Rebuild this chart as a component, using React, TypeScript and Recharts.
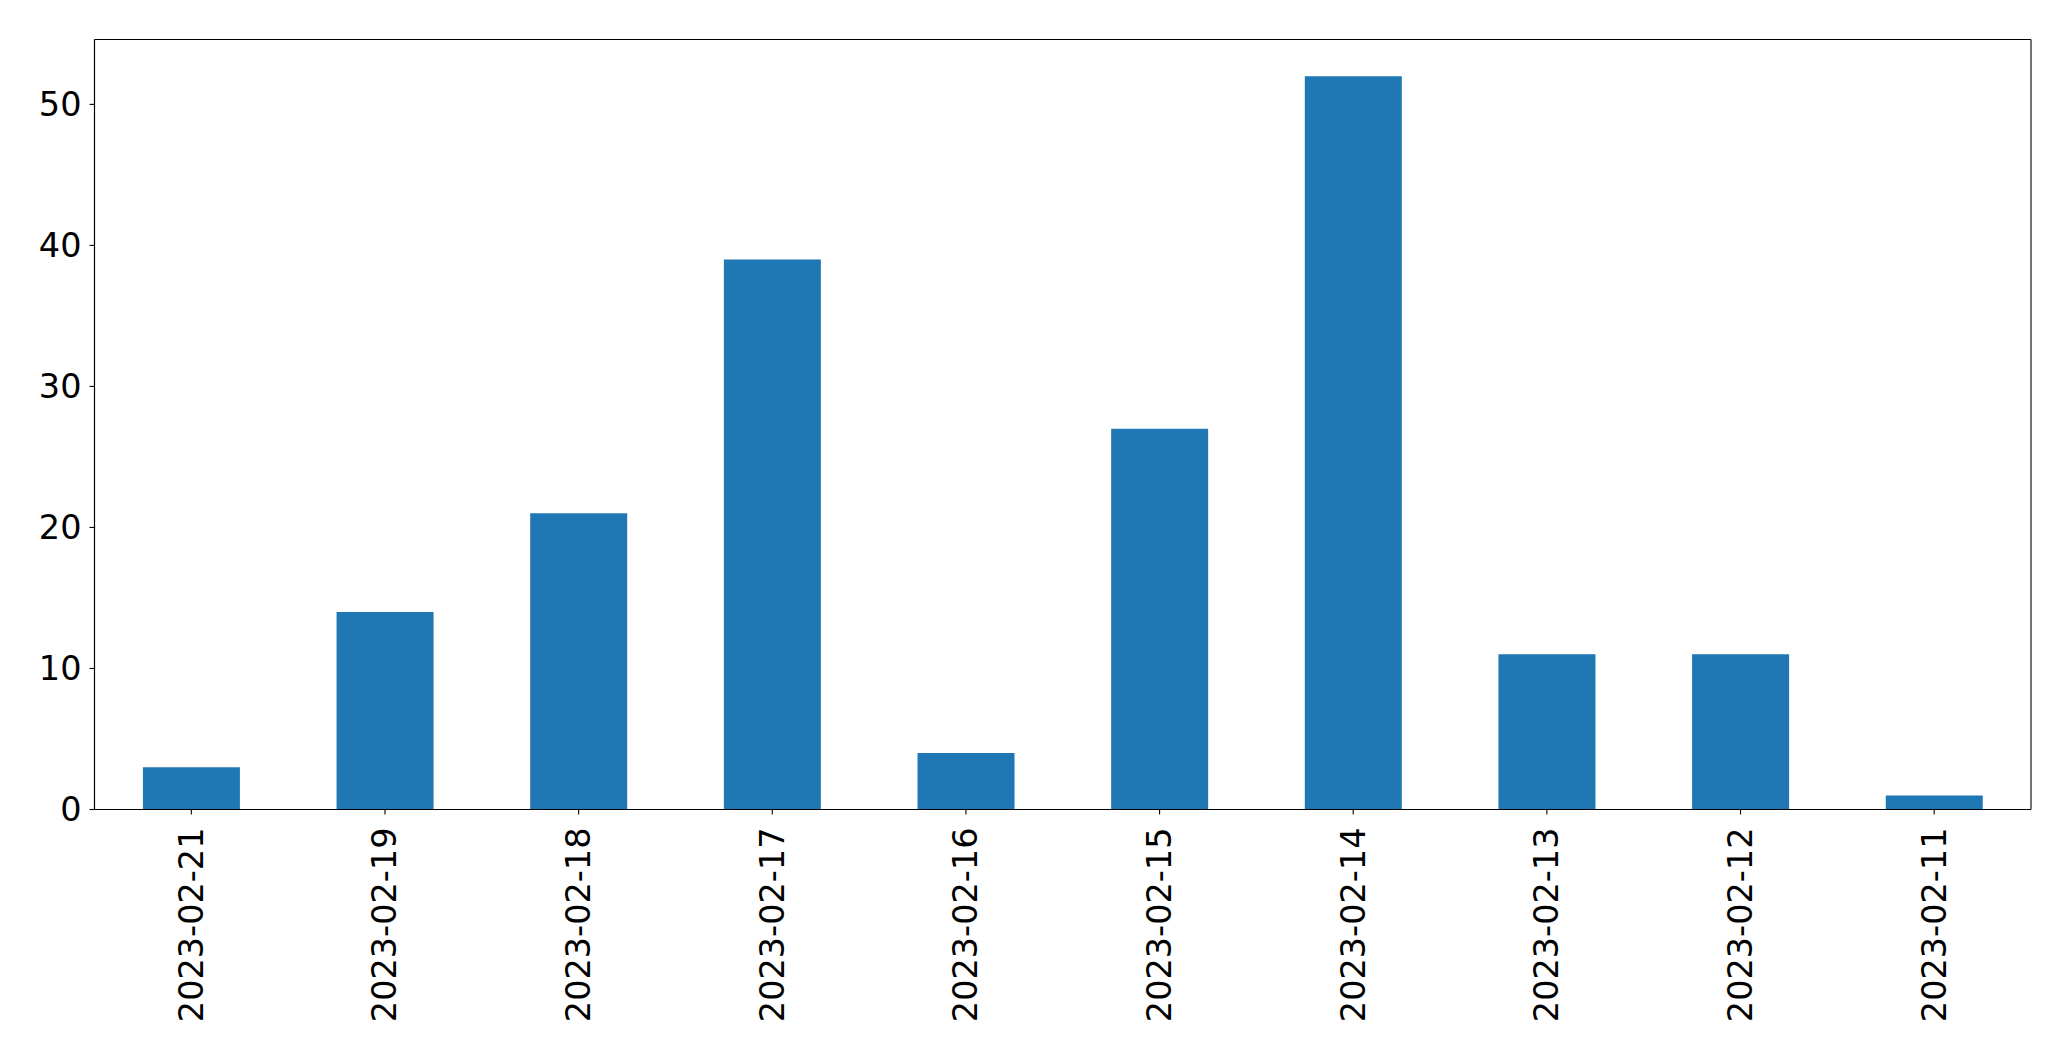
import React from "react";
import { Bar, BarChart, CartesianGrid, XAxis, YAxis } from "recharts";

const dates = [
  "2023-02-21",
  "2023-02-19",
  "2023-02-18",
  "2023-02-17",
  "2023-02-16",
  "2023-02-15",
  "2023-02-14",
  "2023-02-13",
  "2023-02-12",
  "2023-02-11",
];
const counts = [3, 14, 21, 39, 4, 27, 52, 11, 11, 1];
const yTicks = [0, 10, 20, 30, 40, 50];

const data = dates.map((date, i) => ({ date, count: counts[i] }));

const font = "'DejaVu Sans', sans-serif";
const fontSize = 33.5;

const XTick = (props: any) => {
  const { x, y, payload } = props;
  return (
    <g transform={`translate(${x},${y})`}>
      <text
        transform="rotate(-90)"
        textAnchor="end"
        dominantBaseline="central"
        fontFamily={font}
        fontSize={fontSize}
        fill="#000"
      >
        {payload.value}
      </text>
    </g>
  );
};

// frame lines on the plot edges (matplotlib box)
const frameH = ({ offset }: any) => [offset.top, offset.top + offset.height];
const frameV = ({ offset }: any) => [offset.left, offset.left + offset.width];

export default function App() {
  return (
    <div style={{ position: "absolute", left: 0, top: 0, background: "#fff" }}>
      <BarChart
        width={2071}
        height={1061}
        data={data}
        margin={{ top: 39.5, right: 40, bottom: 0, left: 0 }}
        barCategoryGap="25%"
      >
        <CartesianGrid
          stroke="#000"
          strokeWidth={1.1}
          horizontalCoordinatesGenerator={frameH}
          verticalCoordinatesGenerator={frameV}
        />
        <XAxis
          dataKey="date"
          height={251.5}
          interval={0}
          tick={<XTick />}
          tickSize={5}
          tickMargin={13}
          stroke="#000"
          tickLine={{ stroke: "#000", strokeWidth: 1.1 }}
          axisLine={{ stroke: "#000", strokeWidth: 1.1 }}
        />
        <YAxis
          width={94.5}
          domain={[0, 54.6]}
          ticks={yTicks}
          allowDataOverflow
          tickSize={5}
          tickMargin={8}
          tick={{ fontFamily: font, fontSize, fill: "#000" }}
          tickLine={{ stroke: "#000", strokeWidth: 1.1 }}
          axisLine={{ stroke: "#000", strokeWidth: 1.1 }}
        />
        <Bar dataKey="count" fill="#1f77b4" isAnimationActive={false} />
      </BarChart>
    </div>
  );
}
